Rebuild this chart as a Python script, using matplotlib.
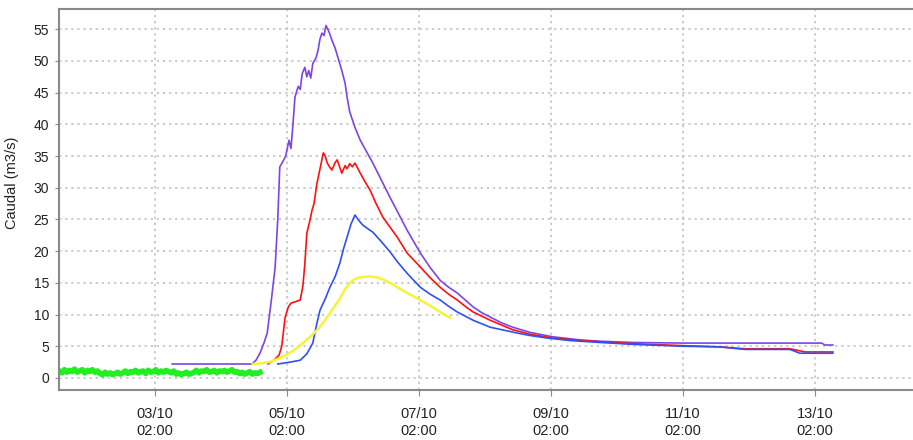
import numpy as np
import matplotlib.pyplot as plt
import matplotlib.dates as mdates

plt.rcParams['font.family'] = ['Liberation Sans', 'DejaVu Sans']

# tiempo en dias desde el 03/10 02:00
t_lila = [0.26, 1.47, 1.53, 1.59, 1.65, 1.70, 1.76, 1.82, 1.86, 1.89, 1.94, 1.98,
          2.03, 2.06, 2.09, 2.12, 2.17, 2.20, 2.23, 2.27, 2.30, 2.33, 2.36, 2.39,
          2.44, 2.47, 2.50, 2.53, 2.56, 2.59, 2.64, 2.68, 2.73, 2.77, 2.83, 2.88,
          2.91, 2.95, 3.03, 3.11, 3.30, 3.43, 3.56, 3.69, 3.82, 4.02, 4.17, 4.32,
          4.45, 4.58, 4.70, 4.82, 4.95, 5.08, 5.25, 5.42, 5.68, 6.02, 6.44, 6.74,
          7.24, 8.00, 8.94, 9.62, 10.10, 10.15, 10.27]
q_lila = [2.2, 2.2, 2.8, 3.9, 5.5, 7.1, 12.0, 17.5, 25.0, 33.3, 34.2, 35.0,
          37.5, 36.2, 40.0, 44.3, 46.0, 45.5, 48.0, 49.0, 47.5, 48.5, 47.3, 49.6,
          50.5, 51.7, 53.5, 54.4, 54.0, 55.6, 54.5, 53.3, 52.0, 50.6, 48.5, 46.5,
          44.3, 42.0, 39.5, 37.5, 33.9, 31.2, 28.5, 25.9, 23.3, 19.7, 17.4, 15.4,
          14.3, 13.4, 12.3, 11.2, 10.3, 9.6, 8.7, 8.0, 7.2, 6.5, 6.0, 5.8,
          5.6, 5.5, 5.5, 5.5, 5.5, 5.2, 5.2]

t_rojo = [1.71, 1.80, 1.88, 1.92, 1.97, 2.02, 2.06, 2.12, 2.20, 2.24, 2.27, 2.30,
          2.35, 2.38, 2.41, 2.45, 2.50, 2.55, 2.58, 2.61, 2.65, 2.68, 2.73, 2.76,
          2.80, 2.83, 2.88, 2.91, 2.95, 2.99, 3.03, 3.11, 3.18, 3.26, 3.35, 3.45,
          3.56, 3.67, 3.82, 4.02, 4.17, 4.32, 4.45, 4.58, 4.70, 4.82, 5.08, 5.42,
          5.68, 6.02, 6.44, 6.74, 7.24, 8.00, 8.56, 8.94, 9.62, 9.85, 10.27]
q_rojo = [2.2, 2.8, 3.6, 5.0, 9.5, 11.2, 11.8, 12.0, 12.3, 14.5, 18.0, 22.8,
          25.0, 26.5, 27.5, 30.5, 33.0, 35.5, 35.0, 33.9, 33.2, 32.8, 34.0, 34.4,
          33.2, 32.3, 33.5, 33.0, 33.8, 33.3, 33.9, 32.3, 31.0, 29.6, 27.5, 25.4,
          23.8, 22.2, 19.7, 17.5, 15.8, 14.3, 13.2, 12.3, 11.3, 10.4, 9.1, 7.6,
          6.9, 6.3, 5.9, 5.7, 5.4, 5.1, 4.9, 4.6, 4.6, 4.1, 4.1]

t_azul = [1.86, 2.05, 2.20, 2.30, 2.39, 2.45, 2.50, 2.58, 2.65, 2.73, 2.80, 2.86,
          2.91, 2.97, 3.03, 3.09, 3.15, 3.23, 3.30, 3.43, 3.56, 3.69, 3.82, 4.02,
          4.17, 4.32, 4.45, 4.58, 4.82, 5.08, 5.48, 5.68, 5.94, 6.29, 6.74, 7.24,
          8.00, 8.56, 8.94, 9.62, 9.77, 10.27]
q_azul = [2.2, 2.5, 2.8, 3.8, 5.5, 8.5, 10.7, 12.5, 14.3, 16.0, 18.1, 20.5,
          22.2, 24.3, 25.7, 24.8, 24.1, 23.5, 23.0, 21.5, 19.9, 18.1, 16.5, 14.3,
          13.2, 12.3, 11.3, 10.4, 9.1, 8.0, 7.1, 6.7, 6.3, 5.9, 5.6, 5.3,
          5.0, 4.9, 4.5, 4.5, 3.9, 3.9]

t_amarillo = [1.48, 1.60, 1.73, 1.86, 1.98, 2.11, 2.23, 2.36, 2.48, 2.61, 2.70, 2.80,
              2.88, 2.95, 3.03, 3.11, 3.24, 3.36, 3.46, 3.56, 3.69, 3.82, 4.02, 4.17,
              4.32, 4.47]
q_amarillo = [2.2, 2.3, 2.5, 3.0, 3.6, 4.4, 5.4, 6.6, 7.8, 9.6, 11.0, 12.5,
              14.0, 15.0, 15.6, 15.9, 16.0, 15.9, 15.5, 15.0, 14.2, 13.4, 12.3, 11.4,
              10.4, 9.5]

# caudal observado (verde), muestras cada ~55 min
t_verde_ini, t_verde_fin = -1.45, 1.59
q_verde = [1.1, 0.8, 1.3, 0.9, 1.2, 1.0, 1.4, 0.9, 1.1, 1.3, 0.8, 1.2, 1.0, 1.3, 0.9, 1.1,
           0.7, 0.5, 0.9, 0.6, 0.8, 0.5, 0.7, 0.9, 0.6,
           0.8, 1.1, 0.7, 1.0, 0.9, 1.2, 0.8, 1.0, 1.1, 0.7, 1.2, 0.9, 1.0, 1.3, 0.8, 1.1,
           0.9, 1.2, 1.0, 0.8, 1.1,
           0.6, 0.8, 0.5, 0.7, 0.9, 0.6, 0.7,
           0.9, 1.2, 0.8, 1.1, 1.0, 1.3, 0.9, 1.0, 1.2, 0.8, 1.1, 1.0, 1.2, 0.9, 1.1, 1.3,
           0.9, 1.0,
           0.7, 0.9, 0.6, 0.8, 1.0, 0.6, 0.8, 0.7, 0.9]

t0 = np.datetime64('2019-10-03T02:00')


def a_fecha(dias):
    minutos = np.round(np.asarray(dias) * 24 * 60).astype(int)
    return t0 + minutos.astype('timedelta64[m]')


t_verde = np.linspace(t_verde_ini, t_verde_fin, len(q_verde))

fig = plt.figure(figsize=(9.13, 4.40), dpi=100)
ax = fig.add_axes([59/913, 1 - 390/440, (913 - 59)/913, (390 - 9)/440])

ax.plot(a_fecha(t_lila), q_lila, color='#7d44e6', lw=1.2)
ax.plot(a_fecha(t_rojo), q_rojo, color='#ff1010', lw=1.2)
ax.plot(a_fecha(t_azul), q_azul, color='#3050f0', lw=1.2)
ax.plot(a_fecha(t_amarillo), q_amarillo, color='#f4f43a', lw=1.8)
ax.plot(a_fecha(t_verde), q_verde, color='#22ee22', lw=4.0)

ax.set_ylim(-1.9, 58.2)
ax.set_xlim(a_fecha(-1.455), a_fecha(11.485))
ax.set_yticks(np.arange(0, 56, 5))
ax.set_xticks(a_fecha(np.arange(0, 11, 2)))
ax.xaxis.set_major_formatter(mdates.DateFormatter('%d/%m\n%H:%M'))

ax.grid(True, color='#bdbdbd', linestyle=(0, (1.5, 2.5)), lw=1.1)
for s in ['top', 'left', 'bottom']:
    ax.spines[s].set_color('#8a8a8a')
    ax.spines[s].set_linewidth(1.5)
ax.spines['right'].set_visible(False)

ax.tick_params(axis='y', length=3, pad=4, labelsize=10, color='#8a8a8a', labelcolor='#222222')
ax.tick_params(axis='x', length=4, pad=8, labelsize=10.5, color='#8a8a8a', labelcolor='#222222')
for lab in ax.get_xticklabels():
    lab.set_linespacing(1.3)

ax.set_ylabel('Caudal (m3/s)', fontsize=10.5, color='#222222')
ax.yaxis.set_label_coords(-0.047, 0.543)

plt.savefig('out.png', dpi=100)
